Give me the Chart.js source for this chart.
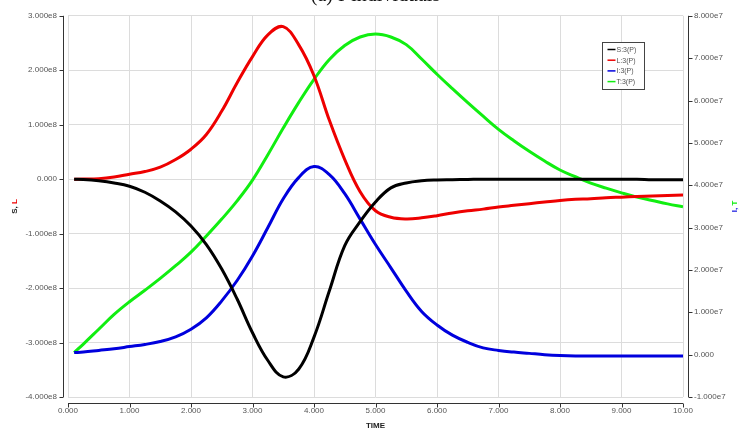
<!DOCTYPE html>
<html>
<head>
<meta charset="utf-8">
<script src="https://cdn.jsdelivr.net/npm/chart.js@4.4.1/dist/chart.umd.min.js"></script>
<style>
  html, body { margin:0; padding:0; background:#fff; overflow:hidden; }
  #wrap { position:relative; width:739px; height:432px; }
  #title {
    position:absolute; left:0; width:739px; top:-17px;
    text-align:center; font-family:"Liberation Serif", "DejaVu Serif", serif;
    font-size:20px; color:#111; padding-left:6px;
  }
  canvas { position:absolute; left:0; top:0; }
</style>
</head>
<body>
<div id="wrap">
  <canvas id="chart" width="739" height="432"></canvas>
  <div id="title">(a) I-individuals</div>
</div>
<script>
document.addEventListener("DOMContentLoaded", () => {

  /* ------------------- DATA -------------------- */

  // simulation time (first sample at 0.1, then every 0.25)
  const TIME = [0.1, 0.25, 0.5, 0.75, 1, 1.25, 1.5, 1.75, 2, 2.25, 2.5, 2.75, 3, 3.25, 3.5, 3.75,
                4, 4.25, 4.5, 4.75, 5, 5.25, 5.5, 5.75, 6, 6.25, 6.5, 6.75, 7, 7.25, 7.5, 7.75,
                8, 8.25, 8.5, 8.75, 9, 9.25, 9.5, 9.75, 10];

  // S and L in units of 1e8 (left axis)
  const S_VALUES = [0, -0.005, -0.03, -0.07, -0.13, -0.24, -0.4, -0.6, -0.86, -1.2, -1.65, -2.2, -2.82, -3.33, -3.63, -3.49,
                    -2.9, -2.05, -1.22, -0.78, -0.42, -0.16, -0.07, -0.03, -0.015, -0.01, -0.005, 0, 0, 0, 0, 0,
                    0, 0, 0, 0, 0, 0, -0.01, -0.01, -0.01];
  const L_VALUES = [0, 0.002, 0.01, 0.04, 0.09, 0.14, 0.22, 0.36, 0.55, 0.82, 1.25, 1.77, 2.25, 2.65, 2.8, 2.47,
                    1.9, 1.08, 0.36, -0.23, -0.58, -0.7, -0.73, -0.71, -0.67, -0.62, -0.58, -0.55, -0.51, -0.48, -0.45, -0.42,
                    -0.39, -0.37, -0.36, -0.34, -0.33, -0.32, -0.31, -0.3, -0.29];

  // I and T in units of 1e7 (right axis)
  const I_VALUES = [0.05, 0.06, 0.1, 0.14, 0.19, 0.24, 0.31, 0.42, 0.6, 0.87, 1.27, 1.75, 2.33, 3.0, 3.68, 4.18,
                    4.44, 4.25, 3.8, 3.2, 2.6, 2.05, 1.5, 1.02, 0.7, 0.46, 0.29, 0.16, 0.1, 0.06, 0.03, 0.0,
                    -0.02, -0.03, -0.03, -0.03, -0.03, -0.03, -0.03, -0.03, -0.03];
  const T_VALUES = [0.05, 0.25, 0.6, 0.95, 1.25, 1.52, 1.8, 2.1, 2.42, 2.8, 3.2, 3.63, 4.12, 4.72, 5.35, 5.95,
                    6.5, 6.97, 7.3, 7.5, 7.57, 7.5, 7.32, 6.98, 6.62, 6.28, 5.95, 5.63, 5.32, 5.05, 4.8, 4.57,
                    4.36, 4.2, 4.05, 3.93, 3.82, 3.72, 3.64, 3.56, 3.49];

  const SERIES = [
    { label: "S:3(P)", values: S_VALUES, scale: 1e8, axis: "y",  color: "#000000" },
    { label: "L:3(P)", values: L_VALUES, scale: 1e8, axis: "y",  color: "#ee0000" },
    { label: "I:3(P)", values: I_VALUES, scale: 1e7, axis: "y1", color: "#0000dd" },
    { label: "T:3(P)", values: T_VALUES, scale: 1e7, axis: "y1", color: "#11ee11" }
  ];

  const X_MIN = 0, X_MAX = 10;
  const Y_LEFT  = { min: -4e8, max: 3e8, step: 1e8 };
  const Y_RIGHT = { min: -1e7, max: 8e7, step: 1e7 };

  const TICK_FONT = { family: "'Liberation Sans Narrow', 'Liberation Sans', Arial, sans-serif", size: 8 };
  const TICK_COLOR = "#555";

  function sciLabel(v){
    if (Math.abs(v) < 1e-9) return "0.000";
    return v.toExponential(3).replace("e+", "e");
  }

  /* ------------------- AXIS LINES, TITLES, LEGEND -------------------- */

  // axis lines sit a few pixels away from the plot frame, ticks pointing outward
  const axisFrame = {
    id: "axisFrame",
    afterDraw(chart){
      const { ctx, chartArea: a, scales } = chart;
      const gap = 5, tl = 4;
      ctx.save();
      ctx.strokeStyle = "#333";
      ctx.lineWidth = 1;
      ctx.beginPath();

      const lx = Math.round(a.left - gap) + 0.5;
      ctx.moveTo(lx, a.top); ctx.lineTo(lx, a.bottom);
      scales.y.ticks.forEach(t => {
        const py = Math.round(scales.y.getPixelForValue(t.value)) + 0.5;
        ctx.moveTo(lx - tl, py); ctx.lineTo(lx, py);
      });

      const rx = Math.round(a.right + gap) + 0.5;
      ctx.moveTo(rx, a.top); ctx.lineTo(rx, a.bottom);
      scales.y1.ticks.forEach(t => {
        const py = Math.round(scales.y1.getPixelForValue(t.value)) + 0.5;
        ctx.moveTo(rx, py); ctx.lineTo(rx + tl, py);
      });

      const by = Math.round(a.bottom + gap + 1) + 0.5;
      ctx.moveTo(a.left, by); ctx.lineTo(a.right, by);
      scales.x.ticks.forEach(t => {
        const px = Math.round(scales.x.getPixelForValue(t.value)) + 0.5;
        ctx.moveTo(px, by); ctx.lineTo(px, by + tl);
      });
      ctx.stroke();

      // axis titles
      ctx.font = "bold 8px 'Liberation Sans', Arial, sans-serif";
      ctx.textBaseline = "middle";
      ctx.fillStyle = "#222";
      ctx.textAlign = "center";
      ctx.fillText("TIME", (a.left + a.right) / 2, 426);

      function vTitle(x, y, parts){
        ctx.save();
        ctx.translate(x, y);
        ctx.rotate(-Math.PI / 2);
        const w = parts.reduce((s, p) => s + ctx.measureText(p.text).width, 0);
        let cx = -w / 2;
        ctx.textAlign = "left";
        parts.forEach(p => {
          ctx.fillStyle = p.color;
          ctx.fillText(p.text, cx, 0);
          cx += ctx.measureText(p.text).width;
        });
        ctx.restore();
      }
      const mid = (a.top + a.bottom) / 2;
      vTitle(15, mid, [{ text: "S, ", color: "#222" }, { text: "L", color: SERIES[1].color }]);
      vTitle(735, mid, [{ text: "I, ", color: SERIES[2].color }, { text: "T", color: SERIES[3].color }]);

      // legend box inside the plot
      const bx = 602.5, byTop = 42.5, bw = 42, bh = 47;
      ctx.fillStyle = "#fff";
      ctx.fillRect(bx, byTop, bw, bh);
      ctx.strokeStyle = "#444";
      ctx.strokeRect(bx, byTop, bw, bh);
      ctx.font = "7px 'Liberation Sans', Arial, sans-serif";
      ctx.textAlign = "left";
      chart.data.datasets.forEach((ds, i) => {
        const ly = byTop + 7 + i * 10.7;
        ctx.strokeStyle = ds.borderColor;
        ctx.lineWidth = 1.5;
        ctx.beginPath();
        ctx.moveTo(bx + 5, ly); ctx.lineTo(bx + 13, ly);
        ctx.stroke();
        ctx.fillStyle = "#555";
        ctx.fillText(ds.label, bx + 14, ly + 0.5);
      });
      ctx.restore();
    }
  };

  /* ------------------- CHART -------------------- */

  const datasets = SERIES.map(s => ({
    label: s.label,
    data: TIME.map((t, i) => ({ x: t, y: s.values[i] * s.scale })),
    yAxisID: s.axis,
    borderColor: s.color,
    backgroundColor: s.color,
    borderWidth: 3,
    pointRadius: 0,
    tension: 0.4,
    fill: false
  }));

  const ctx = document.getElementById("chart").getContext("2d");
  new Chart(ctx, {
    type: "line",
    data: { datasets },
    plugins: [axisFrame],
    options: {
      responsive: false,
      animation: false,
      layout: { padding: { top: 14, bottom: 0, left: 0, right: 0 } },
      plugins: { legend: { display: false }, tooltip: { enabled: false } },
      scales: {
        x: {
          type: "linear",
          min: X_MIN, max: X_MAX,
          afterFit: s => { s.height = 35; },
          ticks: {
            stepSize: 1, padding: 9, maxRotation: 0,
            font: TICK_FONT, color: TICK_COLOR,
            callback: v => Number(v).toPrecision(4)
          },
          grid: { color: "#dcdcdc", drawTicks: false },
          border: { display: false }
        },
        y: {
          position: "left",
          min: Y_LEFT.min, max: Y_LEFT.max,
          afterFit: s => { s.width = 68; },
          ticks: {
            stepSize: Y_LEFT.step, padding: 11,
            font: TICK_FONT, color: TICK_COLOR,
            callback: v => sciLabel(v)
          },
          grid: { color: "#dcdcdc", drawTicks: false },
          border: { display: false }
        },
        y1: {
          position: "right",
          min: Y_RIGHT.min, max: Y_RIGHT.max,
          afterFit: s => { s.width = 56; },
          ticks: {
            stepSize: Y_RIGHT.step, padding: 11,
            font: TICK_FONT, color: TICK_COLOR,
            callback: v => sciLabel(v)
          },
          grid: { display: false, drawTicks: false },
          border: { display: false }
        }
      }
    }
  });

});
</script>
</body>
</html>
